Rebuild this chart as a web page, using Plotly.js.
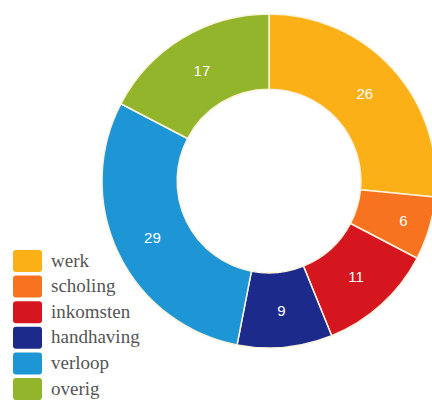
<!DOCTYPE html>
<html>
<head>
<meta charset="utf-8">
<script src="https://cdn.plot.ly/plotly-3.0.1.min.js"></script>
<style>
html,body{margin:0;padding:0;background:#fff;overflow:hidden;width:432px;height:403px;}
#chart{width:436px;height:403px;}
</style>
</head>
<body>
<div id="chart"></div>
<script>
var categories = ["werk", "scholing", "inkomsten", "handhaving", "verloop", "overig"];
var values = [26, 6, 11, 9, 29, 17];
var colors = ["#FCB017", "#F7731F", "#D5161F", "#1C2A8C", "#1E96D5", "#93B52B"];

var W = 436, H = 403;
var R = 167, CX = 269, CY = 181;

var trace = {
  type: "pie",
  labels: categories,
  values: values,
  sort: false,
  direction: "clockwise",
  rotation: 0,
  hole: 0.55,
  marker: {colors: colors, line: {color: "#FBF3DC", width: 1.5}},
  textinfo: "value",
  textposition: "inside",
  insidetextorientation: "horizontal",
  textfont: {family: "Liberation Sans, Arial, sans-serif", size: 15, color: "#ffffff"},
  domain: {x: [(CX - R) / W, (CX + R) / W], y: [(H - CY - R) / H, (H - CY + R) / H]},
  showlegend: false,
  hoverinfo: "label+value"
};

// Legend drawn from the categories / colors arrays
var shapes = [], annotations = [];
var legTop = 261, legStep = 25.6;
for (var i = 0; i < categories.length; i++) {
  var cy = legTop + i * legStep;
  var x0 = 13 / W, x1 = 42 / W;
  var y0 = 1 - (cy + 11) / H, y1 = 1 - (cy - 11) / H;
  var rx = 3 / W, ry = 3 / H;
  var path = "M" + (x0 + rx) + "," + y0 +
    " L" + (x1 - rx) + "," + y0 +
    " Q" + x1 + "," + y0 + " " + x1 + "," + (y0 + ry) +
    " L" + x1 + "," + (y1 - ry) +
    " Q" + x1 + "," + y1 + " " + (x1 - rx) + "," + y1 +
    " L" + (x0 + rx) + "," + y1 +
    " Q" + x0 + "," + y1 + " " + x0 + "," + (y1 - ry) +
    " L" + x0 + "," + (y0 + ry) +
    " Q" + x0 + "," + y0 + " " + (x0 + rx) + "," + y0 + " Z";
  shapes.push({
    type: "path", xref: "paper", yref: "paper", path: path,
    fillcolor: colors[i], line: {width: 0}
  });
  annotations.push({
    xref: "paper", yref: "paper", x: 49 / W, y: 1 - (cy - 1) / H,
    xanchor: "left", yanchor: "middle", showarrow: false,
    text: categories[i],
    font: {family: "Liberation Serif, serif", size: 19, color: "#555555"}
  });
}

var layout = {
  width: W, height: H,
  margin: {l: 0, r: 0, t: 0, b: 0},
  paper_bgcolor: "#ffffff",
  plot_bgcolor: "#ffffff",
  showlegend: false,
  shapes: shapes,
  annotations: annotations
};

Plotly.newPlot("chart", [trace], layout, {displayModeBar: false, staticPlot: true});
</script>
</body>
</html>
